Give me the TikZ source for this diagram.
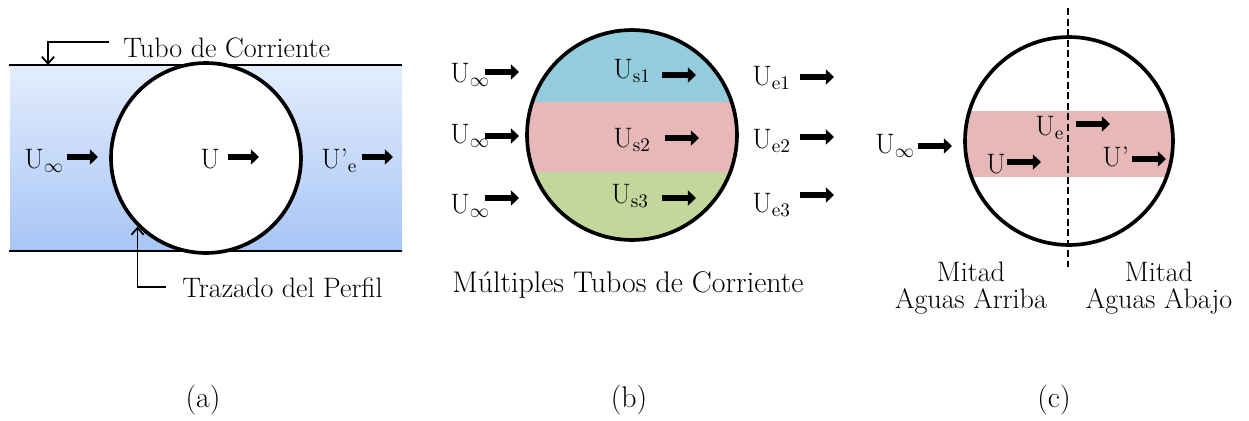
\documentclass[tikz,border=0pt]{standalone}
\usepackage{tikz}
\usetikzlibrary{arrows.meta}
\definecolor{tuboA}{HTML}{E3EDFD}
\definecolor{tuboB}{HTML}{A8C5F6}
\definecolor{azul}{HTML}{93CDDD}
\definecolor{rosa}{HTML}{E6B9B8}
\definecolor{verde}{HTML}{C3D69B}
\tikzset{
  txt/.style={inner sep=0pt, anchor=base west, font=\fontsize{16}{15}\selectfont},
  rotulo/.style={txt, anchor=base, align=center},
  vel/.style={line width=3.2pt, -{Triangle[length=4.6pt,width=8.5pt]}},
  perfil/.style={circle, draw, line width=2.1pt, inner sep=0pt},
  guia/.style={line width=1pt, -{Straight Barb[length=4pt,width=7pt]}}
}
\begin{document}
\begin{tikzpicture}[x=0.02cm, y=-0.02cm]
  \useasboundingbox (0,0) rectangle (1249,420);
  % (a) un tubo de corriente
  \shade[top color=tuboA, bottom color=tuboB] (10,65) rectangle (402,251);
  \draw[line width=1.1pt] (9,65) -- (402,65) (9,251) -- (402,251);
  \node[perfil, fill=white, minimum size=3.8cm] (ca) at (206,158) {};
  \node[txt] (tubo) at (123,57) {Tubo de Corriente};
  \node[txt] (traz) at (182,297) {Trazado del Perfil};
  \coordinate (tt) at (48,65);
  \draw[guia] ([xshift=-8pt,yshift=3pt]tubo.west) -| (tt);
  \draw[guia] ([xshift=-9pt]traz.west) -| (ca.225);
  \node[txt] (ua) at (24,168) {U$_\infty$};
  \node[txt] (u) at (200,168) {U};
  \node[txt] (ue) at (321,168) {U'$_\mathrm{e}$};
  \foreach \x/\y in {67/157, 228/157, 362/157}
    \draw[vel] (\x,\y) -- ++(31,0);
  % (b) varios tubos
  \begin{scope}
    \clip (632,135) circle[radius=105];
    \fill[azul] (520,25) rectangle (745,102);
    \fill[rosa] (520,102) rectangle (745,172);
    \fill[verde] (520,172) rectangle (745,245);
  \end{scope}
  \node[perfil, minimum size=4.2cm] (cb) at (632,135) {};
  \foreach \i/\y in {1/82, 2/143, 3/213}
    \node[txt] (ub\i) at (450,\y) {U$_\infty$};
  \node[txt] (us1) at (613,78) {U$_\mathrm{s1}$};
  \node[txt] (us2) at (613,147) {U$_\mathrm{s2}$};
  \node[txt] (us3) at (611,203) {U$_\mathrm{s3}$};
  \node[txt] (ue1) at (752,85) {U$_\mathrm{e1}$};
  \node[txt] (ue2) at (752,148) {U$_\mathrm{e2}$};
  \node[txt] (ue3) at (752,212) {U$_\mathrm{e3}$};
  \foreach \x/\y in {485/72, 485/136, 485/198, 662/75, 665/138, 662/198,
                     800/77, 800/137, 800/195}
    \draw[vel] (\x,\y) -- ++(34,0);
  \node[rotulo, font=\fontsize{17}{18}\selectfont] (mult) at (628,292)
    {M\'ultiples Tubos de Corriente};
  % (c) mitades del perfil
  \begin{scope}
    \clip (1069,141) circle[radius=104];
    \fill[rosa] (960,111) rectangle (1180,177);
  \end{scope}
  \node[perfil, minimum size=4.16cm] (cc) at (1069,141) {};
  \draw[line width=0.9pt, dash pattern=on 4pt off 2pt] (1068,8) -- (1068,267);
  \node[txt] (uc) at (875,153) {U$_\infty$};
  \node[txt] (uce) at (1035,135) {U$_\mathrm{e}$};
  \node[txt] (ucu) at (986,173) {U};
  \node[txt] (ucp) at (1102,166) {U'};
  \foreach \x/\y in {918/146, 1076/124, 1007/162, 1132/159}
    \draw[vel] (\x,\y) -- ++(34,0);
  \node[rotulo] (arriba) at (971,308) {Mitad\\Aguas Arriba};
  \node[rotulo] (abajo) at (1159,308) {Mitad\\Aguas Abajo};
  % subtitulos
  \begin{scope}[txt/.append style={font=\fontsize{17}{20}\selectfont}]
  \node[rotulo] (sa) at (203,407) {(a)};
  \node[rotulo] (sb) at (629,407) {(b)};
  \node[rotulo] (sc) at (1054,407) {(c)};
  \end{scope}
\end{tikzpicture}
\end{document}
